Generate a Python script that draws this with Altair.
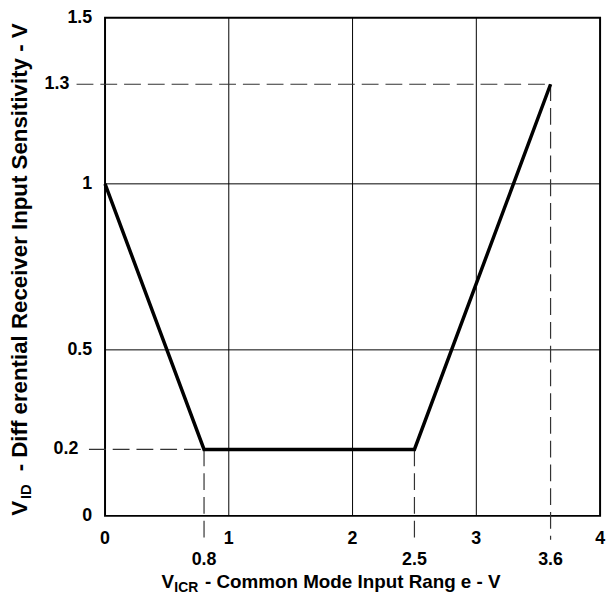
import altair as alt
import pandas as pd

# ---- data ----
curve_x = [0.0, 0.8, 2.5, 3.6]
curve_y = [1.0, 0.2, 0.2, 1.3]

grid_x = [1, 2, 3]
grid_y = [0.5, 1.0]

x_major_vals = [0, 1, 2, 3, 4]
x_major_text = ["0", "1", "2", "3", "4"]
x_marked_vals = [0.8, 2.5, 3.6]
x_marked_text = ["0.8", "2.5", "3.6"]

y_major_vals = [0, 0.5, 1, 1.5]
y_major_text = ["0", "0.5", "1", "1.5"]

# dashed guide lines (data coordinates)
h_dash_y = [0.2, 1.3]
h_dash_from = [-0.13, -0.23]
h_dash_to = [0.8, 3.6]
v_dash_x = [0.8, 2.5, 3.6]
v_dash_from = [0.2, 0.2, 1.3]
v_dash_to = [-0.072, -0.072, -0.072]

FONT = "Arial"
W, H = 500, 503

xs = alt.Scale(domain=[0, 4], nice=False, zero=False)
ys = alt.Scale(domain=[0, 1.5], nice=False, zero=False)
noax = None

curve = pd.DataFrame({"x": curve_x, "y": curve_y})
gx = pd.DataFrame({"x": grid_x})
gy = pd.DataFrame({"y": grid_y})
hd = pd.DataFrame({"y": h_dash_y, "x": h_dash_from, "x2": h_dash_to})
vd = pd.DataFrame({"x": v_dash_x, "y": v_dash_from, "y2": v_dash_to})

grid_v = alt.Chart(gx).mark_rule(color="black", strokeWidth=1).encode(
    x=alt.X("x:Q", scale=xs, axis=noax), y=alt.value(0), y2=alt.value(H))
grid_h = alt.Chart(gy).mark_rule(color="black", strokeWidth=1).encode(
    y=alt.Y("y:Q", scale=ys, axis=noax), x=alt.value(0), x2=alt.value(W))

dash_h = alt.Chart(hd).mark_rule(color="#333", strokeWidth=1.2, strokeDash=[17, 7]).encode(
    x=alt.X("x:Q", scale=xs, axis=noax), x2="x2:Q", y=alt.Y("y:Q", scale=ys, axis=noax))
dash_v = alt.Chart(vd).mark_rule(color="#333", strokeWidth=1.2, strokeDash=[17, 7]).encode(
    x=alt.X("x:Q", scale=xs, axis=noax), y=alt.Y("y:Q", scale=ys, axis=noax), y2="y2:Q")

line = alt.Chart(curve).mark_line(color="black", strokeWidth=3.5, strokeJoin="miter").encode(
    x=alt.X("x:Q", scale=xs, axis=noax), y=alt.Y("y:Q", scale=ys, axis=noax))

TS = 18
def tick_text(vals, texts, chan, **kw):
    df = pd.DataFrame({"v": vals, "t": texts})
    m = alt.Chart(df).mark_text(font=FONT, fontWeight=700, fontSize=TS, color="black", **kw)
    if chan == "x":
        return m.encode(x=alt.X("v:Q", scale=xs, axis=noax), y=alt.value(H), text="t:N")
    return m.encode(y=alt.Y("v:Q", scale=ys, axis=noax), x=alt.value(0), text="t:N")

xl1 = tick_text(x_major_vals, x_major_text, "x", align="center", baseline="middle", dy=23)
xl2 = tick_text(x_marked_vals, x_marked_text, "x", align="center", baseline="middle", dy=45)
yl1 = tick_text(y_major_vals, y_major_text, "y", align="right", baseline="middle", dx=-13)
yl2 = tick_text([h_dash_y[0]], ["0.2"], "y", align="right", baseline="middle", dx=-27)
yl3 = tick_text([h_dash_y[1]], ["1.3"], "y", align="right", baseline="middle", dx=-36)

one = pd.DataFrame({"k": [0]})
def lab(text, x, y, size, angle=0, align="left"):
    return alt.Chart(one).mark_text(text=text, font=FONT, fontWeight=700, fontSize=size,
                                    color="black", align=align, baseline="alphabetic",
                                    angle=angle).encode(x=alt.value(x), y=alt.value(y))

XF = 19
xt = (lab("V", 57, 576, XF) + lab("ICR", 70, 580, 14)
      + lab("- Common Mode Input Rang e -  V", 101, 576, XF))
YF = 22.5
yt = (lab("V", -79, 503, YF, angle=270) + lab("ID", -75, 486, 15, angle=270)
      + lab("- Diff erential Receiver Input Sensitivity - V", -79, 458, YF, angle=270))

chart = alt.layer(grid_v, grid_h, dash_h, dash_v, line, xl1, xl2, yl1, yl2, yl3, xt, yt).properties(
    width=W, height=H,
    autosize=alt.AutoSizeParams(type="none"),
    padding={"left": 98, "top": 7, "right": 8, "bottom": 80},
    background="white",
).configure_view(stroke="black", strokeWidth=2)

chart.save("out.html", embed_options={"renderer": "svg", "actions": False})
